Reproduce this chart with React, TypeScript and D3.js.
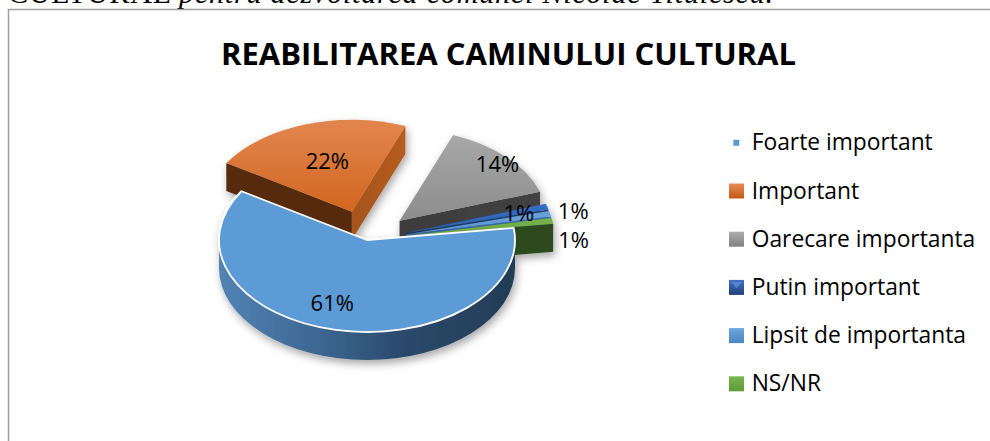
import React from "react";
import * as d3 from "d3";

// ---------- data ----------
const categories = [
  "Foarte important",
  "Important",
  "Oarecare importanta",
  "Putin important",
  "Lipsit de importanta",
  "NS/NR",
];
const values = [61, 22, 14, 1, 1, 1];
const valueLabels = ["61%", "22%", "14%", "1%", "1%", "1%"];
const titleText = "REABILITAREA CAMINULUI CULTURAL";
const headerStart = "CULTURAL ";
const headerRest = "pentru dezvoltarea comunei Nicolae Titulescu.";

// ---------- style ----------
const topColors = [
  ["#5b9bd5", "#5b9bd5"],
  ["#e2864f", "#d1661f"],
  ["#a8a8a8", "#8c8c8c"],
  ["#3470c8", "#2a5eae"],
  ["#6aa2dc", "#5b93cf"],
  ["#78b44d", "#6aa33f"],
];
const startFaceColors = ["#2c4d70", "#552a0d", "#4a4a4a", "#1f3e6e", "#3a6ea6", "#2d4a1e"];
const endFaceColors = ["#2c4d70", "#b65c20", "#424242", "#1f3e6e", "#3d6ea3", "#2d4a1e"];
const explode = [0, 48, 45, 40, 40, 40];
const labelRadius = [0.714, 0.586, 0.914, 0.8, 1.16, 1.13];
const labelShiftDeg = [7, 2, 0, 0, 0, 11];
const legendSwatch = [
  ["#5b9bd5", "#5b9bd5"],
  ["#e58a55", "#c55a11"],
  ["#adadad", "#808080"],
  ["#4472c4", "#203f7a"],
  ["#6ea6dc", "#4a86c0"],
  ["#7cb552", "#5e9a37"],
];

const W = 990;
const H = 441;
const cx = 367;
const cy = 240;
const rx = 148;
const ry = 92;
const depth = 28;
const startDeg = 82.4;

type Pt = [number, number];

export default function App() {
  const pie = d3
    .pie<number>()
    .sort(null)
    .value((d) => d)
    .startAngle((startDeg * Math.PI) / 180)
    .endAngle((startDeg * Math.PI) / 180 + 2 * Math.PI);
  const arcs = pie(values);

  const slices = arcs.map((a, i) => {
    const mid = (a.startAngle + a.endAngle) / 2;
    const ox = explode[i] * Math.sin(mid);
    const oy = -explode[i] * Math.cos(mid) * (ry / rx);
    const P = (t: number, r = 1, bottom = false): Pt => [
      cx + ox + rx * r * Math.sin(t),
      cy + oy - ry * r * Math.cos(t) + (bottom ? depth : 0),
    ];
    return { a, i, mid, ox, oy, P };
  });

  const order = [...slices].sort((s1, s2) => -Math.cos(s1.mid) - -Math.cos(s2.mid));

  const f = (p: Pt) => `${p[0].toFixed(2)},${p[1].toFixed(2)}`;

  const legendY = d3.scaleLinear().domain([0, categories.length - 1]).range([142.8, 383.8]);

  const renderSlice = (s: (typeof slices)[number]) => {
    const { a, i, P } = s;
    const a0 = a.startAngle;
    const a1 = a.endAngle;
    const C = P(0, 0);
    const Cb = P(0, 0, true);
    const parts: React.ReactNode[] = [];
    if (Math.sin(a0) < -1e-6) {
      const p = P(a0);
      const pb = P(a0, 1, true);
      parts.push(
        <path key="sf" d={`M${f(C)}L${f(p)}L${f(pb)}L${f(Cb)}Z`} fill={startFaceColors[i]} />
      );
    }
    if (Math.sin(a1) > 1e-6) {
      const p = P(a1);
      const pb = P(a1, 1, true);
      parts.push(
        <path key="ef" d={`M${f(C)}L${f(p)}L${f(pb)}L${f(Cb)}Z`} fill={`url(#ef${i})`} />
      );
    }
    for (const k of [0, 2 * Math.PI]) {
      const t0 = Math.max(a0, Math.PI / 2 + k);
      const t1 = Math.min(a1, (3 * Math.PI) / 2 + k);
      if (t1 > t0) {
        const large = t1 - t0 > Math.PI ? 1 : 0;
        parts.push(
          <path
            key={"w" + k}
            d={`M${f(P(t0))}A${rx},${ry} 0 ${large} 1 ${f(P(t1))}L${f(P(t1, 1, true))}A${rx},${ry} 0 ${large} 0 ${f(
              P(t0, 1, true)
            )}Z`}
            fill={`url(#wall${i})`}
          />
        );
      }
    }
    const large = a1 - a0 > Math.PI ? 1 : 0;
    parts.push(
      <path
        key="top"
        d={`M${f(C)}L${f(P(a0))}A${rx},${ry} 0 ${large} 1 ${f(P(a1))}Z`}
        fill={`url(#top${i})`}
        stroke={i === 0 ? "#ffffff" : "none"}
        strokeWidth={i === 0 ? 1.8 : 0}
        strokeLinejoin="round"
      />
    );
    return <g key={"s" + i}>{parts}</g>;
  };

  return (
    <svg
      width={W}
      height={H}
      viewBox={`0 0 ${W} ${H}`}
      style={{ position: "absolute", left: 0, top: 0, background: "#ffffff" }}
    >
      <defs>
        <filter id="shadow" x="-20%" y="-20%" width="140%" height="150%">
          <feDropShadow dx="2" dy="4" stdDeviation="4" floodColor="#000" floodOpacity="0.35" />
        </filter>
        {slices.map((s) => (
          <linearGradient key={"t" + s.i} id={"top" + s.i} x1="0" y1="0" x2="0" y2="1">
            <stop offset="0" stopColor={topColors[s.i][0]} />
            <stop offset="1" stopColor={topColors[s.i][1]} />
          </linearGradient>
        ))}
        {slices.map((s) => (
          <linearGradient key={"e" + s.i} id={"ef" + s.i} x1="0" y1="0" x2="1" y2="0">
            <stop offset="0" stopColor={d3.color(endFaceColors[s.i])!.darker(0.25).formatHex()} />
            <stop offset="1" stopColor={endFaceColors[s.i]} />
          </linearGradient>
        ))}
        {slices.map((s) => (
          <linearGradient
            key={"w" + s.i}
            id={"wall" + s.i}
            gradientUnits="userSpaceOnUse"
            x1={cx - rx}
            y1="0"
            x2={cx + rx}
            y2="0"
          >
            <stop offset="0" stopColor="#5283b4" />
            <stop offset="0.35" stopColor="#3b6690" />
            <stop offset="0.62" stopColor="#2a4a6b" />
            <stop offset="1" stopColor="#233c56" />
          </linearGradient>
        ))}
        {legendSwatch.map((c, i) => (
          <linearGradient key={"l" + i} id={"leg" + i} x1="0" y1="0" x2="0" y2="1">
            <stop offset="0" stopColor={c[0]} />
            <stop offset="1" stopColor={c[1]} />
          </linearGradient>
        ))}
      </defs>

      {/* document text above the chart (cut off at the top, as in the reference) */}
      <text
        x={8}
        y={2.5}
        fontFamily="'Liberation Serif', 'Times New Roman', serif"
        fontSize={30}
        fill="#000"
        textLength={765}
        lengthAdjust="spacing"
      >
        {headerStart}
        <tspan fontStyle="italic">{headerRest}</tspan>
      </text>

      {/* chart border */}
      <path d={`M8.5,${H}V9.5H${W}`} fill="none" stroke="#9e9e9e" strokeWidth={1.5} />

      {/* title */}
      <text
        x={508.5}
        y={64.7}
        textAnchor="middle"
        fontFamily="'Open Sans', sans-serif"
        fontWeight={700}
        fontSize={31}
        fill="#000"
        textLength={575}
        lengthAdjust="spacingAndGlyphs"
      >
        {titleText}
      </text>

      {/* pie */}
      <g filter="url(#shadow)">{order.map((s) => renderSlice(s))}</g>

      {/* data labels */}
      {slices.map((s) => {
        const t = s.mid + (labelShiftDeg[s.i] * Math.PI) / 180;
        const p = s.P(t, labelRadius[s.i]);
        return (
          <text
            key={"lab" + s.i}
            x={p[0]}
            y={p[1]}
            textAnchor="middle"
            dominantBaseline="central"
            fontFamily="'Open Sans', sans-serif"
            fontSize={22}
            fill="#000"
          >
            {valueLabels[s.i]}
          </text>
        );
      })}

      {/* legend */}
      {categories.map((c, i) => {
        const y = legendY(i);
        const size = i === 0 ? 6 : 15;
        const x0 = i === 0 ? 733.3 : 729;
        return (
          <g key={"lg" + i}>
            <rect x={x0} y={y - size / 2} width={size} height={size} fill={`url(#leg${i})`} />
            {i === 3 && (
              <path
                d={`M${x0 + 2},${y - 5.5}L${x0 + 13},${y - 5.5}L${x0 + 7.5},${y + 1}Z`}
                fill="#5b8bd8"
                opacity={0.8}
              />
            )}
            <text
              x={751.7}
              y={y + 7.5}
              fontFamily="'Open Sans', sans-serif"
              fontSize={22.8}
              fill="#000"
            >
              {c}
            </text>
          </g>
        );
      })}
    </svg>
  );
}
